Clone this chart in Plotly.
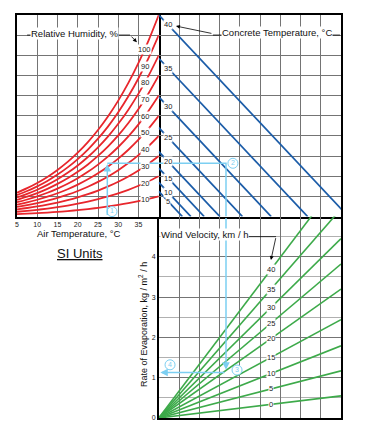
import numpy as np
import plotly.graph_objects as go

# Top left: air temperature (deg C) and saturation vapour pressure (kPa)
air_temp = [5, 7.5, 10, 12.5, 15, 17.5, 20, 22.5, 25, 27.5, 30, 32.5, 35, 37.5, 40]
sat_vp = [0.873, 1.038, 1.228, 1.449, 1.706, 2.000, 2.339, 2.727, 3.170,
          3.672, 4.246, 4.895, 5.629, 6.457, 7.385]
rel_humidity = [10, 20, 30, 40, 50, 60, 70, 80, 90, 100]
air_ticks = [5, 10, 15, 20, 25, 30, 35]

# Top right: concrete temperature lines, vapour pressure where each one starts
concrete_temp = [5, 10, 15, 20, 25, 30, 35, 40]
concrete_vp = [0.92, 1.25, 1.77, 2.38, 3.26, 4.38, 5.80, 7.385]

# Bottom right: wind velocity lines, evaporation rate reached at the right edge
wind_speed = [0, 5, 10, 15, 20, 25, 30, 35, 40]
evap_at_edge = [0.55, 1.17, 1.79, 2.44, 3.20, 3.82, 4.45, 5.19, 5.98]
evap_ticks = [0, 1, 2, 3, 4]

# worked example (light blue path)
ex_air_temp = 27.3
ex_vp = 1.95
ex_dvp = 2.62
ex_evap = 1.13

VP_MAX = 7.385
DVP_MAX = 7.1
EVAP_MAX = 5

RED = "#E8262C"
BLUE = "#1B5CA8"
GREEN = "#3DAA4A"
LBLUE = "#7CCFF2"
GRID = "#747474"
FONT = "Liberation Sans"

fig = go.Figure()

# relative humidity curves
for rh in rel_humidity:
    fig.add_trace(go.Scatter(x=air_temp, y=np.array(sat_vp) * rh / 100, mode="lines",
                             line=dict(color=RED, width=1.8, shape="spline"),
                             xaxis="x", yaxis="y", hoverinfo="skip"))

# concrete temperature lines
for c in concrete_vp:
    fig.add_trace(go.Scatter(x=[0, c], y=[c, 0], mode="lines",
                             line=dict(color=BLUE, width=1.8),
                             xaxis="x2", yaxis="y2", hoverinfo="skip"))

# wind velocity lines
for e in evap_at_edge:
    fig.add_trace(go.Scatter(x=[0, DVP_MAX], y=[0, e], mode="lines",
                             line=dict(color=GREEN, width=1.6),
                             xaxis="x3", yaxis="y3", hoverinfo="skip"))

# example path
ex_line = dict(color=LBLUE, width=1.5)
fig.add_trace(go.Scatter(x=[ex_air_temp, 40], y=[ex_vp, ex_vp], mode="lines",
                         line=ex_line, xaxis="x", yaxis="y"))
fig.add_trace(go.Scatter(x=[0, ex_dvp, ex_dvp], y=[ex_vp, ex_vp, 0], mode="lines",
                         line=ex_line, xaxis="x2", yaxis="y2"))

# circled step numbers
steps = [("1", 28.46, 0.18, "x", "y"), ("2", 2.89, ex_vp, "x2", "y2"),
         ("3", 3.05, 1.19, "x3", "y3"), ("4", 0.44, 1.32, "x3", "y3")]
for txt, sx, sy, xa, ya in steps:
    fig.add_trace(go.Scatter(x=[sx], y=[sy], mode="markers+text", text=[txt],
                             textposition="middle center",
                             textfont=dict(size=7, color=LBLUE, family=FONT),
                             marker=dict(size=10, color="white",
                                         line=dict(color=LBLUE, width=1)),
                             cliponaxis=False, xaxis=xa, yaxis=ya))

ann = []
lab = dict(showarrow=False, bgcolor="white", borderpad=0,
           xanchor="center", yanchor="middle",
           font=dict(size=7.5, color="#222", family=FONT))

vp_label = np.interp(36.5, air_temp, sat_vp)
for rh in rel_humidity:
    ann.append(dict(x=36.5, y=vp_label * rh / 100, xref="x", yref="y",
                    text=str(rh), **lab))
for t, c in zip(concrete_temp, concrete_vp):
    ann.append(dict(x=0.36, y=c - 0.36, xref="x2", yref="y2", text=str(t), **lab))
for v, e in zip(wind_speed, evap_at_edge):
    ann.append(dict(x=4.37, y=e * 4.37 / DVP_MAX, xref="x3", yref="y3",
                    text=str(v), **lab))

# arrows of the example
arr = dict(text="", showarrow=True, arrowhead=2, arrowsize=1, arrowwidth=1.5,
           arrowcolor=LBLUE)
ann.append(dict(x=ex_air_temp, y=ex_vp - 0.03, ax=ex_air_temp, ay=0, xref="x", yref="y",
                axref="x", ayref="y", **arr))
ann.append(dict(x=ex_dvp, y=ex_evap + 0.07, ax=ex_dvp, ay=EVAP_MAX, xref="x3", yref="y3",
                axref="x3", ayref="y3", **arr))
ann.append(dict(x=0.06, y=ex_evap, ax=ex_dvp, ay=ex_evap, xref="x3", yref="y3",
                axref="x3", ayref="y3", **arr))

# leader arrows
lead = dict(text="", showarrow=True, arrowhead=2, arrowsize=1, arrowwidth=0.8,
            arrowcolor="black")
ann.append(dict(x=34.6, y=6.39, ax=32.9, ay=6.65, xref="x", yref="y",
                axref="x", ayref="y", **lead))
ann.append(dict(x=0.67, y=6.98, ax=2.11, ay=6.70, xref="x2", yref="y2",
                axref="x2", ayref="y2", **lead))
ann.append(dict(x=4.37, y=3.92, ax=4.57, ay=4.50, xref="x3", yref="y3",
                axref="x3", ayref="y3", **lead))

title_font = dict(size=9.5, color="#111", family=FONT)
txt = dict(showarrow=False, xanchor="center", yanchor="middle")
ann.append(dict(x=19.1, y=6.72, xref="x", yref="y", text="Relative Humidity, %",
                bgcolor="white", borderpad=0, font=title_font, **txt))
ann.append(dict(x=4.61, y=6.76, xref="x2", yref="y2", text="Concrete Temperature, °C",
                bgcolor="white", borderpad=0, font=title_font, **txt))
ann.append(dict(x=1.80, y=4.55, xref="x3", yref="y3", text="Wind Velocity, km / h",
                bgcolor="white", borderpad=0, font=title_font, **txt))
ann.append(dict(x=20.1, y=0.459, xref="x", yref="paper", text="Air Temperature, °C",
                font=title_font, **txt))
ann.append(dict(x=0.389, y=0.231, xref="paper", yref="paper", textangle=-90,
                text="Rate of Evaporation, kg / m<sup>2</sup> / h",
                font=dict(size=9, color="#111", family=FONT), **txt))
ann.append(dict(x=0.194, y=0.409, xref="paper", yref="paper", text="SI Units",
                font=dict(size=13, color="#111", family=FONT, lineposition="under"),
                **txt))

shp = [
    dict(type="line", xref="x", yref="y", x0=7.5, x1=32.9, y0=6.65, y1=6.65,
         line=dict(color="black", width=0.8)),
    dict(type="line", xref="x2", yref="y2", x0=2.11, x1=7.06, y0=6.65, y1=6.65,
         line=dict(color="black", width=0.8)),
    dict(type="line", xref="x3", yref="y3", x0=3.5, x1=4.57, y0=4.50, y1=4.50,
         line=dict(color="black", width=0.8)),
]

base = dict(showline=True, linecolor="black", linewidth=1.6, automargin=False,
            zeroline=False, showgrid=True, gridcolor=GRID, gridwidth=1,
            ticks="", tickfont=dict(size=7, color="#222", family=FONT))

# the page adds an 8px body margin, so the figure is drawn 8px smaller
fig.update_layout(
    width=368, height=417,
    margin=dict(l=9, r=35, t=7, b=7, autoexpand=False),
    paper_bgcolor="white", plot_bgcolor="white",
    showlegend=False,
    font=dict(family=FONT),
    xaxis=dict(domain=[0, 0.4375], range=[5, 40], anchor="y", mirror=True,
               tickvals=air_ticks, ticktext=[str(t) for t in air_ticks], **base),
    yaxis=dict(domain=[0.5, 1], range=[0, VP_MAX], anchor="x", mirror=True,
               dtick=VP_MAX / 10, showticklabels=False, **base),
    xaxis2=dict(domain=[0.4375, 1], range=[0, DVP_MAX], anchor="y2", mirror=True,
                dtick=DVP_MAX / 9, showticklabels=False, **base),
    yaxis2=dict(domain=[0.5, 1], range=[0, VP_MAX], anchor="x2", side="right",
                dtick=VP_MAX / 10, showticklabels=False, **base),
    xaxis3=dict(domain=[0.4375, 1], range=[0, DVP_MAX], anchor="y3",
                dtick=DVP_MAX / 9, showticklabels=False, **base),
    yaxis3=dict(domain=[0, 0.5], range=[0, EVAP_MAX], anchor="x3", mirror=True,
                tickvals=evap_ticks,
                minor=dict(dtick=0.5, showgrid=True, gridcolor="#b0b0b0"), **base),
    annotations=ann,
    shapes=shp,
)

fig.write_html("out.html")
